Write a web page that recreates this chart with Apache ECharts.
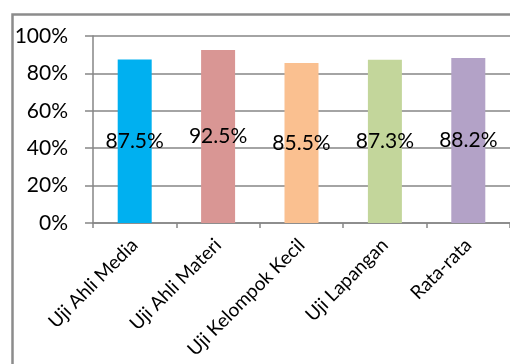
<!DOCTYPE html>
<html><head><meta charset="utf-8">
<script src="https://cdn.jsdelivr.net/npm/echarts@6/dist/echarts.min.js"></script>
<style>html,body{margin:0;padding:0;background:#fff}#c{width:510px;height:364px}</style>
</head><body><div id="c"></div>
<script>
const categories = ['Uji Ahli Media', 'Uji Ahli Materi', 'Uji Kelompok Kecil', 'Uji Lapangan', 'Rata-rata'];
const values = [87.5, 92.5, 85.5, 87.3, 88.2];
const valueLabels = ['87.5%', '92.5%', '85.5%', '87.3%', '88.2%'];
const barColors = ['#00B0F0', '#D99694', '#FAC090', '#C3D69B', '#B3A2C7'];
const yTicks = [0, 20, 40, 60, 80, 100];

const chart = echarts.init(document.getElementById('c'), null, {renderer: 'canvas'});
const font = 'Lato';
chart.setOption({
  animation: false,
  backgroundColor: '#fff',
  graphic: [{
    type: 'rect', left: 10, top: 12, shape: {width: 530, height: 380},
    style: {fill: 'none', stroke: '#8c8c8c', lineWidth: 2.5}, z: 0
  }],
  grid: {left: 93, top: 36, width: 421, height: 187, containLabel: false},
  xAxis: {
    type: 'category', data: categories,
    axisLine: {lineStyle: {color: '#868686', width: 1.5}},
    axisTick: {show: true, length: 5, alignWithLabel: false, lineStyle: {color: '#868686', width: 1.5}},
    axisLabel: {rotate: 45, margin: 19, fontFamily: font, fontSize: 19, color: '#000', interval: 0}
  },
  yAxis: {
    type: 'value', min: 0, max: 100, interval: 20,
    axisLine: {show: true, lineStyle: {color: '#868686', width: 1.5}},
    axisTick: {show: true, length: 8, lineStyle: {color: '#868686', width: 1.5}},
    splitLine: {lineStyle: {color: '#868686', width: 1.5}},
    axisLabel: {margin: 25, fontFamily: font, fontSize: 21, color: '#000',
      formatter: v => yTicks.includes(v) ? v + '%' : ''}
  },
  series: [{
    type: 'bar', barWidth: 34,
    data: values.map((v, i) => ({value: v, itemStyle: {color: barColors[i]}})),
    label: {show: true, position: 'inside', fontFamily: font, fontSize: 21, color: '#000',
      formatter: p => valueLabels[p.dataIndex]}
  }]
});
</script></body></html>
